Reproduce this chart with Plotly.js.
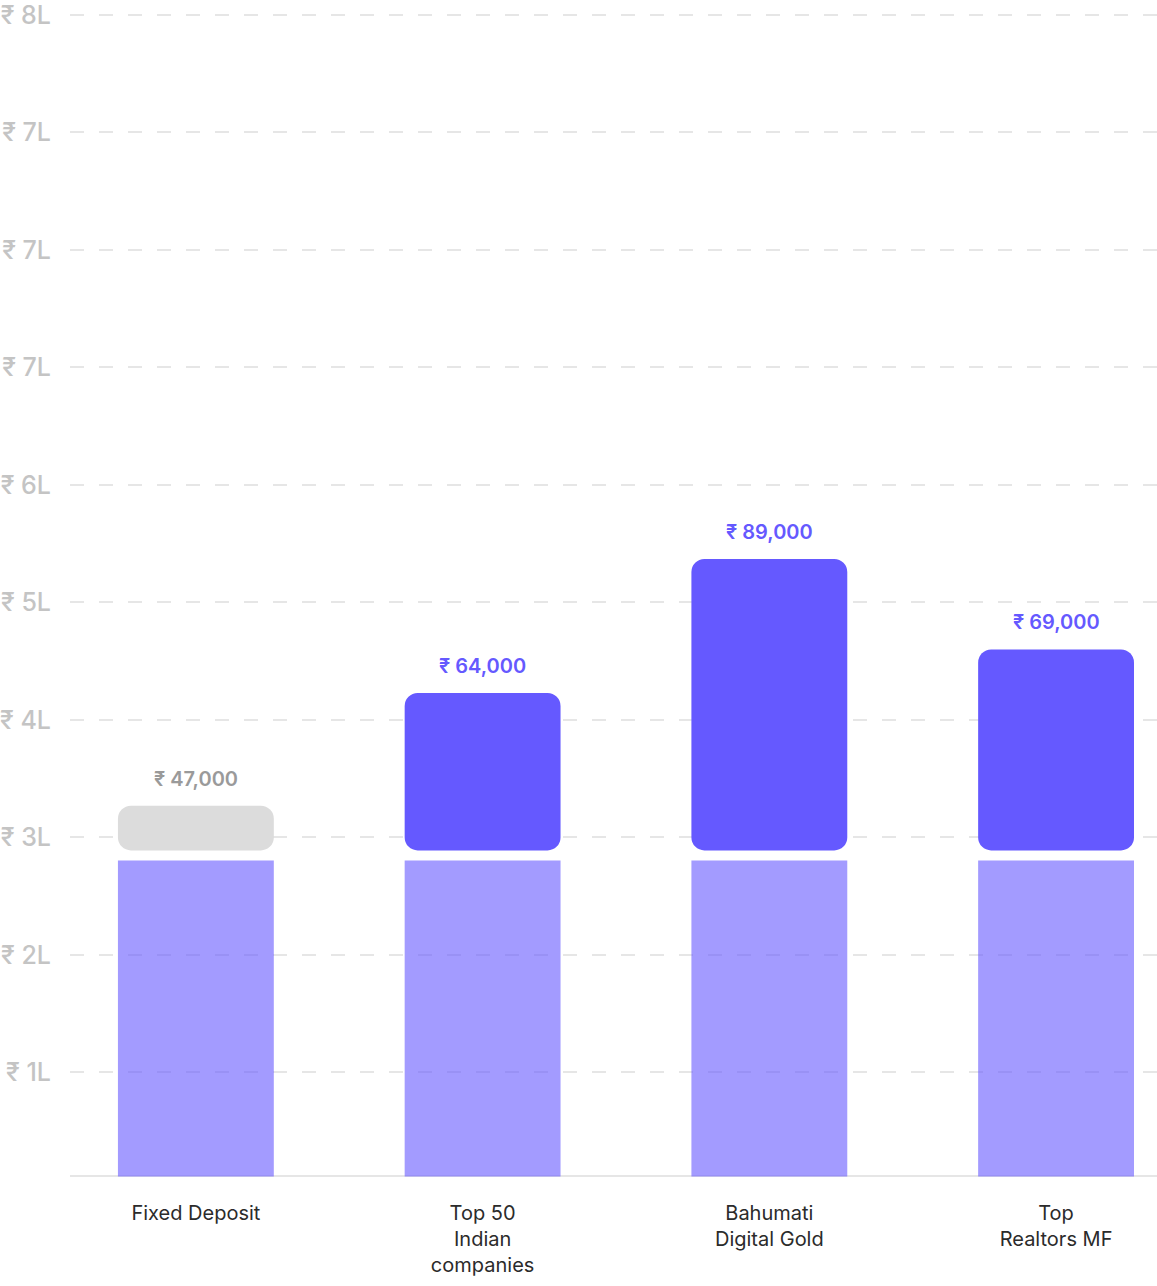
<!DOCTYPE html>
<html>
<head>
<meta charset="utf-8">
<script src="https://cdn.plot.ly/plotly-3.0.1.min.js"></script>
<style>
  html, body { margin: 0; padding: 0; background: #fff; }
  #chart { width: 1157px; height: 1286px; }
</style>
</head>
<body>
<div id="chart"></div>
<script>
// values in lakh units, measured from the baseline
const categories = ['Fixed Deposit', 'Top 50<br>Indian<br>companies', 'Bahumati<br>Digital Gold', 'Top<br>Realtors MF'];
const invested = [2.69, 2.69, 2.69, 2.69];
const gains = [0.38, 1.34, 2.48, 1.71];
const gainLabels = ['₹ 47,000', '₹ 64,000', '₹ 89,000', '₹ 69,000'];
const gainColors = ['#dcdcdc', '#6559ff', '#6559ff', '#6559ff'];
const labelColors = ['#9a9a9a', '#6559ff', '#6559ff', '#6559ff'];

const tickVals = [0.885, 1.885, 2.885, 3.885, 4.885, 5.885, 6.885, 7.885, 8.885, 9.885];
const tickText = ['₹ 1L', '₹ 2L', '₹ 3L', '₹ 4L', '₹ 5L', '₹ 6L', '₹ 7L', '₹ 7L', '₹ 7L', '₹ 8L'];

const gap = 0.085;
const font = 'Inter, "Noto Sans", sans-serif';

let data = [
	{
		type: 'bar',
		x: categories,
		y: invested,
		width: 0.5436,
		marker: {color: 'rgba(101,89,255,0.6)', line: {width: 0}},
		hoverinfo: 'skip'
	},
	{
		type: 'bar',
		x: categories,
		y: gains,
		base: invested.map(v => v + gap),
		width: 0.5436,
		marker: {color: gainColors, cornerradius: 13, line: {width: 0}},
		hoverinfo: 'skip'
	}
];

let annotations = categories.map((c, i) => ({
	x: c,
	y: invested[i] + gap + gains[i],
	xref: 'x',
	yref: 'y',
	text: gainLabels[i],
	showarrow: false,
	yanchor: 'middle',
	yshift: 27,
	font: {family: font, size: 20, color: labelColors[i], weight: 600}
}));

let layout = {
	width: 1157,
	height: 1286,
	margin: {l: 70, r: 0, t: 0, b: 106},
	paper_bgcolor: '#fff',
	plot_bgcolor: '#fff',
	barmode: 'overlay',
	showlegend: false,
	font: {family: font},
	xaxis: {
		type: 'category',
		range: [-0.439, 3.352],
		showgrid: false,
		showline: false,
		zeroline: false,
		ticks: '',
		ticklabelstandoff: 19,
		tickfont: {family: font, size: 20, color: '#2b2b2b'}
	},
	yaxis: {
		range: [-0.03, 10.0126],
		tickmode: 'array',
		tickvals: tickVals,
		ticktext: tickText,
		ticks: '',
		ticklabelstandoff: 18,
		ticklabeloverflow: 'allow',
		tickfont: {family: font, size: 25, color: '#c4c4c4', weight: 500},
		showgrid: true,
		gridcolor: '#e6e6e6',
		gridwidth: 2,
		griddash: '14px,15px',
		zeroline: true,
		zerolinecolor: '#e6e6e6',
		zerolinewidth: 2,
		showline: false
	},
	annotations: annotations
};

Plotly.newPlot('chart', data, layout, {displayModeBar: false, staticPlot: true});
</script>
</body>
</html>
